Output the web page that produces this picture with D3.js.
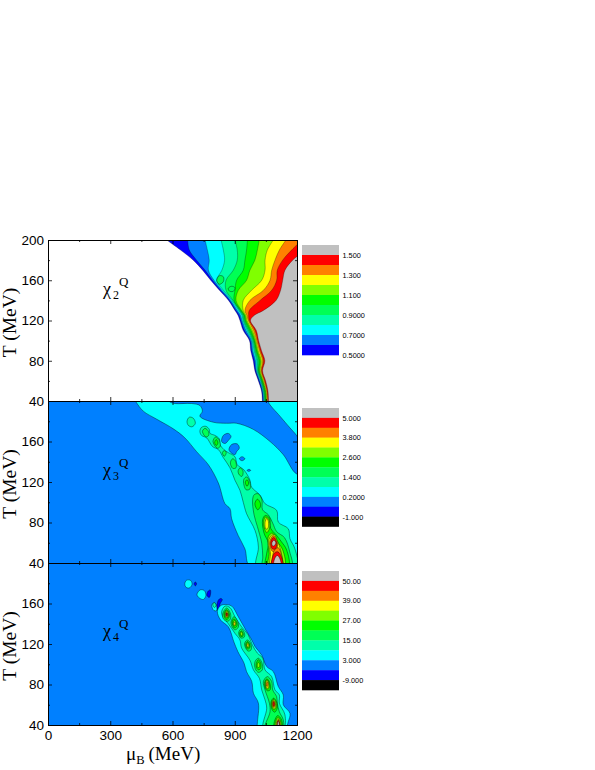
<!DOCTYPE html>
<html><head><meta charset="utf-8">
<script src="https://cdn.jsdelivr.net/npm/d3@7"></script>
<style>html,body{margin:0;padding:0;background:#fff}svg{display:block}</style>
</head><body><svg id="c" width="595" height="770"></svg>
<script>
const muTicks=[0,300,600,900,1200], muMinor=[150,450,750,1050];
const tTicks=[40,80,120,160,200], tMinor=[60,100,140,180];
const bandColors=["#000000","#0000ff","#0080ff","#00ffff","#00ffaa","#00ff55","#00ff00","#80ff00","#ffff00","#ff8000","#ff0000","#c0c0c0"];
const legend2=["1.500","1.300","1.100","0.9000","0.7000","0.5000"];
const legend3=["5.000","3.800","2.600","1.400","0.2000","-1.000"];
const legend4=["50.00","39.00","27.00","15.00","3.000","-9.000"];

// chi2: mu position of each contour at each temperature
const chi2T=[200,190,180,170,160,150,140,130,125,120,110,100,90,80,70,60,50,40];
const chi2L05=[572,639,700,745,784,826,870,901,916,925,941,971,977,989,997,1014,1029,1033];
const chi2L06=[673,681,716,757,792,832,875,906,922,930,947,975,982,995,1001,1018,1032,1036];
const chi2L07=[757,768,777,773,800,838,880,912,928,935,954,980,987,1000,1004,1021,1035,1039];
const chi2L08=[834,845,851,838,813,845,886,919,935,940,960,984,993,1006,1008,1025,1038,1042];
const chi2L09=[901,912,912,893,858,858,892,924,940,944,966,989,998,1011,1012,1028,1041,1045];
const chi2L10=[961,957,949,941,909,901,897,928,945,949,972,993,1003,1017,1015,1031,1044,1048];
const chi2L11=[1018,1009,997,973,957,917,906,933,949,954,979,997,1008,1023,1019,1035,1048,1051];
const chi2L12=[1086,1057,1046,1046,1030,981,941,941,954,959,985,1002,1013,1028,1023,1038,1051,1054];
const chi2L13=[1147,1115,1094,1078,1070,1038,973,949,959,965,991,1006,1019,1034,1027,1042,1054,1057];
const chi2L14=[1224,1174,1131,1105,1102,1078,1022,970,967,970,998,1011,1024,1039,1030,1045,1057,1060];
const chi2L15=[1278,1238,1179,1142,1131,1121,1099,1038,993,976,1004,1015,1029,1045,1034,1049,1060,1063];
const chi2Levels=[chi2L05,chi2L06,chi2L07,chi2L08,chi2L09,chi2L10,chi2L11,chi2L12,chi2L13,chi2L14,chi2L15];
const chi2Loop1=[[813,160],[826,164.5],[845,163.5],[845,158.6],[826,156]];
const chi2Loop2=[[869,152],[885,154],[901,152.6],[893,149],[874,149.3]];

// chi3: contour rings [mu,T], low to high
const chi3Cyan=[
 [[411,203],[424,199],[459,190],[524,182],[604,172.5],[660,163.5],[716,150],[773,137],[821,119],[853,98.6],[877,93.7],[885,83.7],[917,67],[949,54],[975,36],[1250,36],[1250,128],[1198,128],[1134,147],[1070,160],[989,172],[909,178],[861,178],[797,179],[732,185],[744,190],[732,195.5],[692,197.5],[612,197.5],[588,199],[564,203]],
 [[1062,203],[1062,199],[1118,185],[1166,173.5],[1198,166],[1250,150],[1250,203]]];
const chi3Holes=[
 [[837,160],[845,166],[869,168],[882,165],[869,161],[853,158]],
 [[872,152],[885,157],[912,157.6],[922,153.6],[909,150],[901,147],[882,149]],
 [[922,143],[935,145],[949,143],[935,141]],
 [[959,131.5],[969,132.5],[977,131.5],[967,130.5]]];
const chi3Spring=[
 [[670,180],[681,184],[700,183],[710,178],[694,174.5],[676,176]],
 [[732,170],[740,174],[761,175],[777,172],[781,168],[805,166],[826,162.5],[829,157],[848,152],[869,149],[901,145],[912,137],[944,132],[973,122],[981,115],[1022,107],[1046,98.6],[1102,92],[1110,80.4],[1158,73.8],[1166,64],[1190,54],[1198,36],[1006,36],[1014,55.7],[998,72],[957,88.7],[941,100],[925,111.8],[901,121.7],[877,134],[845,144],[821,152],[793,155],[765,163.5],[740,166]]];
const chi3Mint=[
 [[744,170],[757,173],[773,170],[774,166],[761,164.5]],
 [[795,160],[808,164.5],[826,161],[829,155],[816,153.3]],
 [[840,149],[850,151],[859,149],[850,145.4]],
 [[879,139],[890,143],[904,140.5],[906,134],[890,133.5]],
 [[916,131],[927,134],[940,130.5],[935,125.6],[922,127]],
 [[943,122.3],[957,125],[972,120.6],[973,113],[954,112.4]],
 [[986,102.5],[994,107.5],[1013,108.4],[1031,102.5],[1034,92.6],[1062,87.6],[1083,79.4],[1102,71],[1140,65],[1165,51],[1174,36],[1035,36],[1035,46],[1030,59.6],[1009,76],[993,87.6]]];
const chi3Green=[
 [[803,159],[811,162],[819,158.6],[811,156]],
 [[951,119.7],[959,122.3],[967,119],[959,115.7]],
 [[997,99],[1009,103],[1022,100],[1023,95.3],[1010,92.6],[1001,95.3]],
 [[1034,82.7],[1047,87],[1068,84.4],[1073,74.4],[1099,67.9],[1125,61],[1150,53],[1158,36],[1050,36],[1054,49.7],[1062,59.6],[1041,69.5]]];
const chi3Lime=[
 [[1039,78.7],[1047,85.3],[1063,83.4],[1068,74.4],[1054,70]],
 [[1062,66.2],[1081,69.5],[1102,62],[1131,53],[1140,36],[1062,36],[1066,49.7],[1060,58]]];
const chi3Yellow=[
 [[1046,80],[1054,84],[1062,81],[1060,74.4],[1050,73.5]],
 [[1063,60],[1072,66],[1090,68],[1105,62],[1122,52],[1128,36],[1072,36],[1072,50]]];
const chi3Orange=[
 [[1068,60],[1086,67],[1106,60],[1100,53],[1082,51.5]],
 [[1078,36],[1080,44],[1092,53],[1110,55],[1124,49],[1128,36]]];
const chi3Red=[
 [[1073,60],[1087,65.5],[1102,60],[1096,54],[1081,54]],
 [[1078,36],[1080,44],[1092,50],[1108,51],[1125,46],[1130,36]]];
const chi3Gray=[
 [[1079,60],[1089,62.5],[1098,60],[1090,57],[1082,57]],
 [[1089,36],[1092,44],[1105,47.5],[1118,44],[1123,36]]];

// chi4: contour rings [mu,T], low to high
const chi4Blue=[
 [[704,179.4],[710,181.3],[716,179.4],[710,177.4]],
 [[766,168],[771,172],[782,173.4],[784,170.5],[777.5,166]],
 [[816,154],[820,163],[832,165],[840,164],[829,159.5],[825,153.5]]];
const chi4Cyan=[
 [[659,179.4],[668,183],[688,182.7],[694,178.7],[681,175.4],[665,176]],
 [[718,168.8],[733,173.4],[753,172.8],[761,168],[749,164],[729,165.5]],
 [[789,158],[800,161],[812,158],[812,153],[800,153]],
 [[816,152],[829,157.5],[848,159],[885,157.5],[917,147],[949,135.4],[982,124],[998,117.4],[1030,109],[1054,97.7],[1086,92.7],[1110,78],[1134,69.7],[1134,60],[1166,51.6],[1158,43.4],[1142,36],[1009,36],[1009,41.7],[1014,61.5],[990,71.4],[982,83],[957,92.7],[945,101],[915,112.5],[896,122],[869,137],[832,143.6]]];
const chi4Spring=[
 [[794,159],[802,161],[810,158],[802,156]],
 [[837,152],[853,157.5],[877,156],[901,147],[933,137],[965,129],[985,119],[1009,111],[1035,106],[1046,94.4],[1078,87.8],[1094,74.6],[1115,69.7],[1115,61.5],[1142,50],[1134,36],[1038,36],[1054,56.6],[1046,64.8],[1030,74.6],[1019,86],[990,94.4],[973,104],[933,116],[925,124],[901,130.5],[869,140],[842,147]]];
const chi4Mint=[
 [[842,149.7],[861,155.6],[880,149.7],[877,144],[861,142.4],[845,145]],
 [[882,141.7],[896,147],[914,142.4],[917,136.5],[901,134],[887,137]],
 [[919,131.5],[932,135],[948,130],[945,126.6],[928,126]],
 [[948,121],[961,124],[978,120],[978,114],[964,113],[951,116.7]],
 [[998,102.8],[1014,106],[1030,102],[1033,94.5],[1014,92],[999,95.5]],
 [[1038,83],[1057,87.8],[1078,83],[1083,74.6],[1102,68],[1105,61.5],[1115,53],[1134,45],[1131,36],[1046,36],[1070,53],[1067,61.5],[1046,74.6]]];
const chi4Green=[
 [[848,149.7],[861,154],[874,149.7],[871,145.7],[858,144]],
 [[887,141.7],[896,145],[909,141.7],[911,137.8],[898,135.8]],
 [[924,131],[932,133],[941,130],[938,127.5],[928,127.5]],
 [[953,120],[962,122.6],[973,119],[972,116],[960,115]],
 [[1004,101],[1014,104.5],[1025,101],[1025,96],[1014,94.5],[1004,97]],
 [[1044,82.3],[1055,85.6],[1068,82.3],[1071,74.8],[1057,73.8],[1046,77]],
 [[1075,63],[1087,66.5],[1102,63],[1105,56.6],[1092,52.6],[1078,56]],
 [[1091,43.4],[1107,49.3],[1126,45],[1126,36],[1091,36]]];
const chi4Lime=[
 [[853,149.7],[861,153],[871,149.7],[867,146.4],[858,145.7]],
 [[892,140.7],[898,143.4],[906,140.7],[904,138.4],[896,137.8]],
 [[927,130.5],[932,132],[938,130],[933,128]],
 [[956,119.3],[962,121.6],[970,119],[967,116.7],[959,116.7]],
 [[1009,100],[1014,102],[1020,100],[1018,97],[1010,97]],
 [[1049,82.3],[1055,84.6],[1063,82.3],[1065,76.4],[1055,75.4],[1049,78]],
 [[1078,62.5],[1087,65.5],[1099,62.5],[1099,57],[1089,55],[1079,58.3]],
 [[1097,43.4],[1108,47.4],[1121,44],[1121,36],[1097,36]]];
const chi4Yellow=[
 [[856,149.7],[861,152],[867,149.7],[866,147],[859,146.7]],
 [[895,140],[898,141.7],[903,139.8],[898,138.4]],
 [[959,119],[962,120.3],[967,118.3],[962,117.3]],
 [[1050,82],[1055,83.7],[1062,82],[1062,77],[1055,76.4],[1050,79]],
 [[1081,62.5],[1087,64.5],[1095,62],[1094,57],[1087,56.6],[1081,59]],
 [[1102,43.4],[1110,45.7],[1118,43.4],[1118,36],[1102,36]]];
const chi4Orange=[
 [[858,150],[861,151],[866,149.7],[863,147],[859,148]],
 [[1053,81],[1056,82.5],[1060,81],[1057,78],[1053,78.5]],
 [[1083,62.3],[1087,63.7],[1093,62],[1092,58.5],[1087,57.5],[1083,59]],
 [[1105,43],[1110,45],[1115,43],[1115,36],[1105,36]]];
const chi4Red=[
 [[860,150.5],[862,150.7],[864,149],[862,147.8],[860,148.5]],
 [[1085,62],[1088,63],[1091,61.5],[1090,59],[1087,58.5],[1085,60]],
 [[1106,43],[1110,44.5],[1114,43],[1114,36],[1106,36]]];
const chi4Gray=[[[1107,42.5],[1110,43.7],[1113,42.5],[1113,36],[1107,36]]];

const svg=d3.select("#c");
const x=d3.scaleLinear().domain([0,1200]).range([48,297]);
const panels=[{top:240,bot:401},{top:401,bot:563},{top:563,bot:725}];
const defs=svg.append("defs");
const color=i=>bandColors[i];

function makePanel(i){
  const p=panels[i];
  const y=d3.scaleLinear().domain([40,200]).range([p.bot,p.top]);
  defs.append("clipPath").attr("id","clip"+i).append("rect")
    .attr("x",x(0)).attr("y",p.top).attr("width",x(1200)-x(0)).attr("height",p.bot-p.top);
  const g=svg.append("g");
  const plot=g.append("g").attr("clip-path",`url(#clip${i})`);
  return {p,y,g,plot};
}
function rings(P,list,c){
  const line=d3.line().x(d=>x(d[0])).y(d=>P.y(d[1])).curve(d3.curveCatmullRomClosed.alpha(0.5));
  P.plot.append("g").selectAll("path").data(list).join("path")
    .attr("d",line).attr("fill",c).attr("stroke","#000").attr("stroke-width",0.5).attr("stroke-opacity",0.8);
}
function frame(P,i,labelLast){
  const {p,y,g}=P;
  const ax=(gen,tr)=>{
    const a=g.append("g").attr("transform",tr).call(gen);
    a.selectAll("text").attr("font-family","'Liberation Sans',Arial,sans-serif").attr("font-size",13.5).attr("fill","#000");
    a.selectAll("line").attr("stroke","#000").attr("stroke-width",0.8);
    a.select(".domain").attr("stroke","#000").attr("stroke-width",1);
    return a;
  };
  const shown=i===0?tTicks:tTicks.slice(0,4);
  ax(d3.axisLeft(y).tickValues(shown).tickSizeInner(-4).tickSizeOuter(0).tickPadding(4).tickFormat(d3.format("d")),`translate(${x(0)},0)`);
  ax(d3.axisLeft(y).tickValues(tMinor).tickSize(-2).tickFormat(""),`translate(${x(0)},0)`);
  ax(d3.axisRight(y).tickValues(tTicks).tickSizeInner(-4).tickSizeOuter(0).tickFormat(""),`translate(${x(1200)},0)`);
  ax(d3.axisRight(y).tickValues(tMinor).tickSize(-2).tickFormat(""),`translate(${x(1200)},0)`);
  const bottom=d3.axisBottom(x).tickValues(muTicks).tickSizeInner(-4).tickSizeOuter(0).tickPadding(5);
  if(labelLast) bottom.tickFormat(d3.format("d")); else bottom.tickFormat("");
  ax(bottom,`translate(0,${p.bot})`);
  ax(d3.axisBottom(x).tickValues(muMinor).tickSize(-2).tickFormat(""),`translate(0,${p.bot})`);
  ax(d3.axisTop(x).tickValues(muTicks).tickSizeInner(-4).tickSizeOuter(0).tickFormat(""),`translate(0,${p.top})`);
  ax(d3.axisTop(x).tickValues(muMinor).tickSize(-2).tickFormat(""),`translate(0,${p.top})`);
  g.append("text").attr("transform",`translate(16,${(p.top+p.bot)/2+2}) rotate(-90)`)
    .attr("text-anchor","middle").attr("font-family","'Liberation Serif',serif").attr("font-size",19.5).text("T (MeV)");
}
function chiLabel(g,idx,ly){
  const t=g.append("g").attr("font-family","'Liberation Serif',serif");
  t.append("text").attr("x",103).attr("y",ly).attr("font-size",18).text("χ");
  t.append("text").attr("x",113).attr("y",ly+4).attr("font-size",12).text(idx);
  t.append("text").attr("x",119).attr("y",ly-9).attr("font-size",13).text("Q");
}
function legendBar(g,top,bot,cols,labels,firstLabelY,stepY){
  const n=cols.length;
  const s=d3.scaleBand().domain(d3.range(n)).range([top,bot]);
  g.append("g").selectAll("rect").data(cols).join("rect")
    .attr("x",302).attr("width",37).attr("y",(d,i)=>s(i)).attr("height",s.bandwidth()+0.3).attr("fill",d=>d);
  g.append("g").selectAll("text").data(labels).join("text")
    .attr("x",342.5).attr("y",(d,i)=>firstLabelY+i*stepY+2.5).attr("font-size",7.3)
    .attr("font-family","'Liberation Sans',Arial,sans-serif").text(d=>d);
}

// Panel 1
const P0=makePanel(0);
const rowLine=d3.line().curve(d3.curveCatmullRom.alpha(0.5));
chi2Levels.forEach((vals,k)=>{
  const pts=vals.map((m,j)=>[x(m),P0.y(chi2T[j])]);
  const d=rowLine(pts);
  P0.plot.append("path")
    .attr("d",d+`L${x(1300)},${P0.y(40)}L${x(1300)},${P0.y(200)}Z`).attr("fill",color(k+1));
  P0.plot.append("path").attr("d",d).attr("fill","none").attr("stroke","#000").attr("stroke-width",0.4).attr("stroke-opacity",0.7);
});
rings(P0,[chi2Loop1],color(5));
rings(P0,[chi2Loop2],color(5));
frame(P0,0,false);
chiLabel(P0.g,"2",295);
legendBar(svg,245,355,bandColors.slice(1).reverse(),legend2,255.5,19.9);

// Panel 2
const P1=makePanel(1);
P1.plot.append("rect").attr("x",x(0)).attr("y",P1.p.top).attr("width",x(1200)-x(0)).attr("height",P1.p.bot-P1.p.top).attr("fill",color(2));
[chi3Cyan,chi3Holes,chi3Spring,chi3Mint,chi3Green,chi3Lime,chi3Yellow,chi3Orange,chi3Red,chi3Gray]
  .forEach((r,k)=>rings(P1,r,[3,2,4,5,6,7,8,9,10,11].map(color)[k]));
frame(P1,1,false);
chiLabel(P1.g,"3",476);
legendBar(svg,408,526.5,bandColors.slice().reverse(),legend3,418,19.9);

// Panel 3
const P2=makePanel(2);
P2.plot.append("rect").attr("x",x(0)).attr("y",P2.p.top).attr("width",x(1200)-x(0)).attr("height",P2.p.bot-P2.p.top).attr("fill",color(2));
[chi4Blue,chi4Cyan,chi4Spring,chi4Mint,chi4Green,chi4Lime,chi4Yellow,chi4Orange,chi4Red,chi4Gray]
  .forEach((r,k)=>rings(P2,r,[1,3,4,5,6,7,8,9,10,11].map(color)[k]));
frame(P2,2,true);
chiLabel(P2.g,"4",637);
legendBar(svg,571,690,bandColors.slice().reverse(),legend4,581,19.9);

// x title
const xt=svg.append("text").attr("x",126).attr("y",760).attr("font-family","'Liberation Serif',serif").attr("font-size",19);
xt.append("tspan").text("μ");
xt.append("tspan").attr("font-size",12.5).attr("dy",4).text("B");
xt.append("tspan").attr("dy",-4).attr("dx",4).text("(MeV)");
</script></body></html>
